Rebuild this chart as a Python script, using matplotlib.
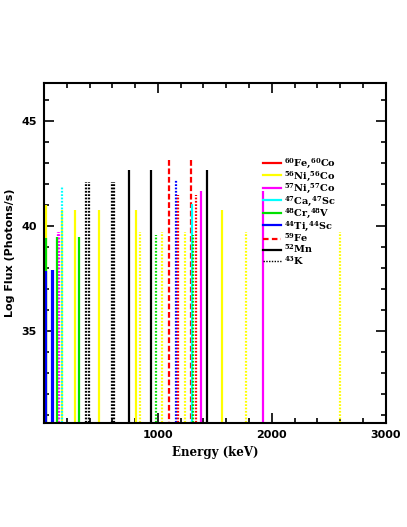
import numpy as np
import matplotlib
matplotlib.use("Agg")
import matplotlib.pyplot as plt
from matplotlib.ticker import MultipleLocator, FixedLocator
from matplotlib.lines import Line2D

# line energies (keV) and log flux
ni56_energy = [15, 158, 270, 480, 812, 1562]
ni56_flux = [41.0, 40.75, 40.76, 40.76, 40.76, 40.73]
co56_energy = [847, 1038, 1238, 1771, 2599]
co56_flux = [39.71, 39.71, 39.71, 39.68, 39.68]

ni57_energy = [1378, 1920]
ni57_flux = [41.63, 41.63]
co57_energy = [122, 136]
co57_flux = [39.68, 39.68]

ca47_energy = [1297]
ca47_flux = [41.05]
sc47_energy = [159]
sc47_flux = [41.9]

cr48_energy = [15, 112, 308]
cr48_flux = [39.43, 39.46, 39.46]
v48_energy = [983, 1312]
v48_flux = [39.57, 39.57]

ti44_energy = [15, 68, 78]
ti44_flux = [37.82, 37.87, 37.87]
sc44_energy = [1157]
sc44_flux = [42.19]

co60_energy = [1173, 1332]
co60_flux = [41.48, 41.48]

fe59_energy = [1099, 1292]
fe59_flux = [43.14, 43.14]

mn52_energy = [744, 935, 1434]
mn52_flux = [42.63, 42.63, 42.63]

k43_energy = [373, 397, 593, 618]
k43_flux = [42.08, 42.08, 42.08, 42.08]

legend_labels = [r'$^{60}$Fe,$^{60}$Co', r'$^{56}$Ni,$^{56}$Co', r'$^{57}$Ni,$^{57}$Co',
                 r'$^{47}$Ca,$^{47}$Sc', r'$^{48}$Cr,$^{48}$V', r'$^{44}$Ti,$^{44}$Sc',
                 r'$^{59}$Fe', r'$^{52}$Mn', r'$^{43}$K']

plt.rcParams['mathtext.fontset'] = 'dejavuserif'
plt.rcParams['mathtext.default'] = 'bf'

fig = plt.figure(figsize=(4.07, 5.27), dpi=100)
ax = fig.add_axes([0.108, 0.197, 0.840, 0.646])

ymin = 30.0
lw = 1.6
dot = (0, (0.8, 0.7))
dash = (0, (2.6, 1.2))

ax.vlines(fe59_energy, ymin, fe59_flux, colors='red', linestyles=[dash], lw=lw, zorder=1)
ax.vlines(ni56_energy, ymin, ni56_flux, colors='yellow', lw=lw, zorder=2)
ax.vlines(co56_energy, ymin, co56_flux, colors='yellow', linestyles=[dot], lw=lw, zorder=2)
ax.vlines(ni57_energy, ymin, ni57_flux, colors='magenta', lw=lw, zorder=2)
ax.vlines(co57_energy, ymin, co57_flux, colors='magenta', linestyles=[dot], lw=lw, zorder=2)
ax.vlines(ca47_energy, ymin, ca47_flux, colors='cyan', lw=lw, zorder=2)
ax.vlines(sc47_energy, ymin, sc47_flux, colors='cyan', linestyles=[dot], lw=lw, zorder=2)
ax.vlines(cr48_energy, ymin, cr48_flux, colors='#00e000', lw=lw, zorder=2)
ax.vlines(v48_energy, ymin, v48_flux, colors='#00e000', linestyles=[dot], lw=lw, zorder=2)
ax.vlines(ti44_energy, ymin, ti44_flux, colors='blue', lw=lw, zorder=2)
ax.vlines(sc44_energy, ymin, sc44_flux, colors='blue', linestyles=[dot], lw=lw, zorder=2)
ax.vlines(co60_energy, ymin, co60_flux, colors='red', linestyles=[dot], lw=lw, zorder=2)
ax.vlines(mn52_energy, ymin, mn52_flux, colors='black', lw=lw, zorder=2)
ax.vlines(k43_energy, ymin, k43_flux, colors='black', linestyles=[dot], lw=lw, zorder=2)

ax.set_xlim(0, 3000)
ax.set_ylim(30.6, 46.8)
ax.xaxis.set_major_locator(FixedLocator([1000, 2000, 3000]))
ax.xaxis.set_minor_locator(MultipleLocator(200))
ax.yaxis.set_major_locator(MultipleLocator(5))
ax.yaxis.set_minor_locator(MultipleLocator(1))
ax.tick_params(which='both', direction='in', top=True, right=True, width=1.2)
ax.tick_params(which='major', length=7, pad=5)
ax.tick_params(which='minor', length=3.5)
for lab in ax.get_xticklabels() + ax.get_yticklabels():
    lab.set_fontweight('bold')
    lab.set_fontsize(8)
for sp in ax.spines.values():
    sp.set_linewidth(1.5)

ax.set_xlabel('Energy (keV)', fontsize=8.5, fontweight='bold', family='DejaVu Serif', labelpad=4)
ax.set_ylabel('Log Flux (Photons/s)', fontsize=8, fontweight='bold', labelpad=5)

handles = [Line2D([], [], color='red', lw=lw),
           Line2D([], [], color='yellow', lw=lw),
           Line2D([], [], color='magenta', lw=lw),
           Line2D([], [], color='cyan', lw=lw),
           Line2D([], [], color='#00e000', lw=lw),
           Line2D([], [], color='blue', lw=lw),
           Line2D([], [], color='red', lw=lw, linestyle=(0, (2.5, 1.5))),
           Line2D([], [], color='black', lw=lw),
           Line2D([], [], color='black', lw=1.0, linestyle=(0, (1, 1)))]
ax.legend(handles, legend_labels, loc='upper left', bbox_to_anchor=(0.625, 0.80),
          frameon=False, handlelength=1.8, handletextpad=0.3, labelspacing=-0.12,
          borderaxespad=0.2, prop={'family': 'DejaVu Serif', 'weight': 'bold', 'size': 7})

fig.savefig('out.png', dpi=100)
